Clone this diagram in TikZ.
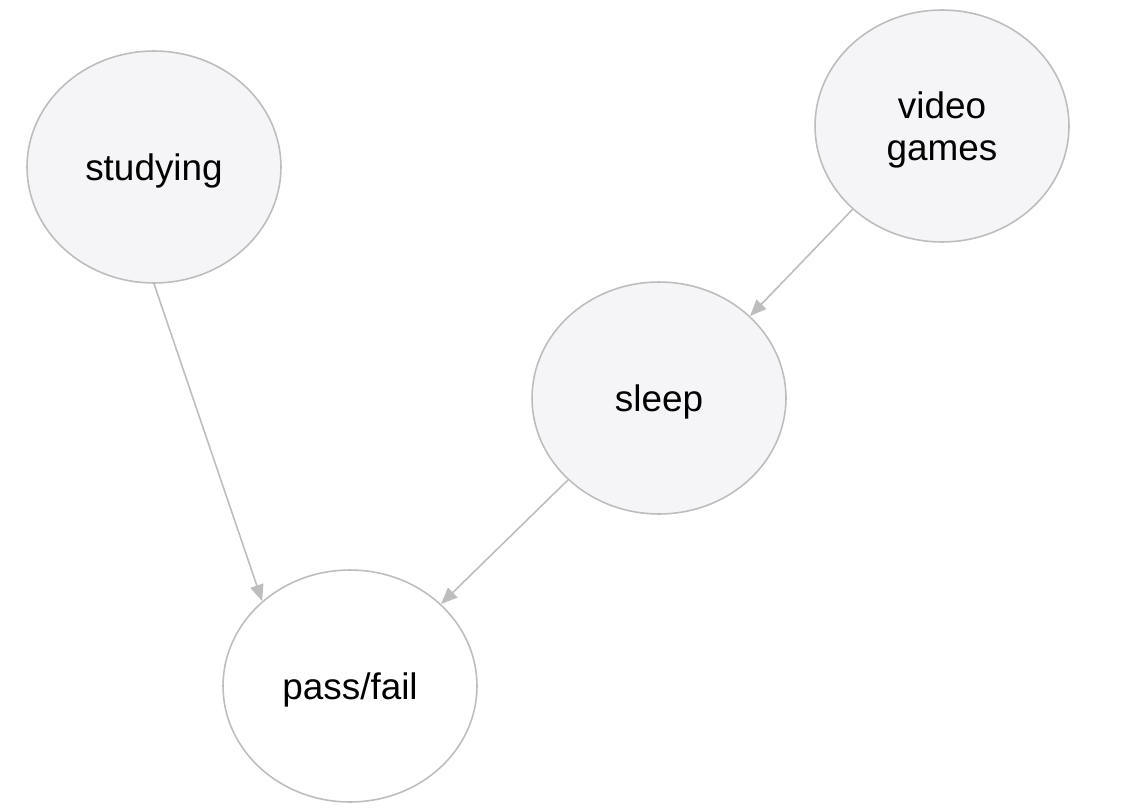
\documentclass[tikz,border=0pt]{standalone}
\usepackage{fontspec}
\setmainfont{Liberation Sans}
\usetikzlibrary{shapes.geometric,arrows.meta}
\definecolor{nodefill}{HTML}{F5F4F7}
\definecolor{edgegrey}{HTML}{BDBDBD}
\tikzset{
  var/.style={ellipse, draw=edgegrey, line width=0.9pt, fill=nodefill,
    minimum width=5.08cm, minimum height=4.64cm, inner sep=0pt,
    text depth=0pt, align=center, font=\fontsize{21}{24}\selectfont},
  link/.style={draw=edgegrey, line width=0.9pt,
    -{Triangle[length=0.33cm, width=0.27cm, fill=edgegrey]}}
}
\begin{document}
\begin{tikzpicture}[x=0.02cm, y=-0.02cm]
        \useasboundingbox (0,0) rectangle (1136,811);
        \node[var] (studying) at (154,167) {studying};
        \node[var] (games) at (942,126) {video\\games};
        \node[var] (sleep) at (659,398) {sleep};
        \node[var, fill=white] (passfail) at (350,686) {pass/fail};
        \draw[link] (studying.270) -- (passfail.136.6);
        \draw[link] (games.223) -- (sleep.42.4);
        \draw[link] (sleep.222.7) -- (passfail.42);
\end{tikzpicture}
\end{document}
